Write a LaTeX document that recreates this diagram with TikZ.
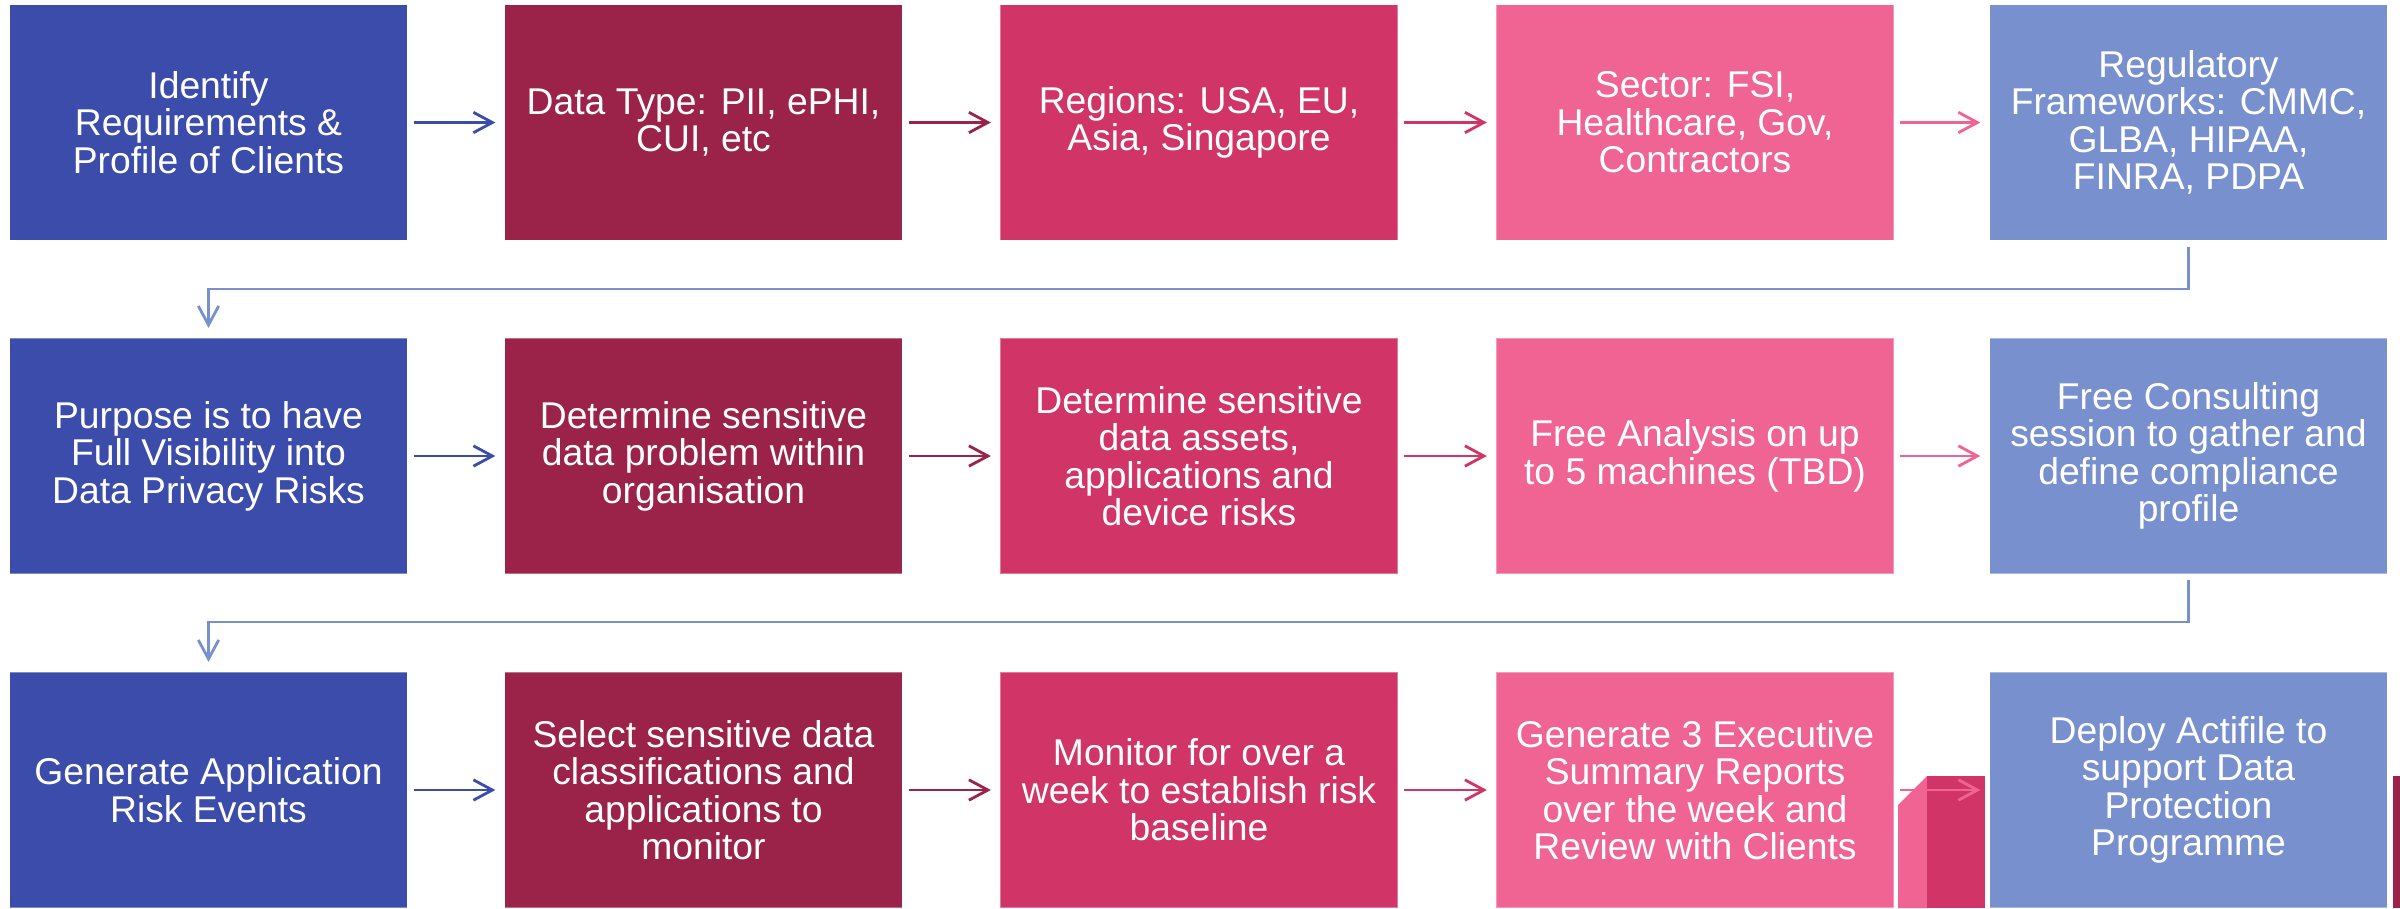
\documentclass[tikz,border=0pt]{standalone}
\usepackage{fontspec}
\setmainfont{Liberation Sans}
\usetikzlibrary{arrows.meta}
\definecolor{cA}{HTML}{3B4CAB}
\definecolor{cB}{HTML}{9B2349}
\definecolor{cC}{HTML}{D13466}
\definecolor{cD}{HTML}{F06494}
\definecolor{cE}{HTML}{7891CE}
\tikzset{
  stepbox/.style={minimum width=3.97cm, minimum height=2.35cm, inner sep=0pt,
    text=white, align=center, draw=white, draw opacity=0.35, line width=0.3pt,
    font=\fontsize{10.6pt}{10.65pt}\selectfont},
  arr/.style={line width=0.8pt, -{Straight Barb[length=5.4pt,width=5.8pt,line width=0.8pt]}},
  harr/.style={arr, shorten <=0.06cm, shorten >=0.09cm},
}
\begin{document}
\begin{tikzpicture}[x=0.01cm,y=-0.01cm]
\useasboundingbox (0,0) rectangle (2400,908);
% row 1
\node[stepbox, fill=cA] (a1) at (208.5,122.5) {Identify\\Requirements \&\\Profile of Clients};
\node[stepbox, fill=cB] (a2) at (703.5,122.5) {Data Type: PII, ePHI,\\CUI, etc};
\node[stepbox, fill=cC] (a3) at (1199,122.5) {Regions: USA, EU,\\Asia, Singapore};
\node[stepbox, fill=cD] (a4) at (1695,122.5) {Sector: FSI,\\Healthcare, Gov,\\Contractors};
\node[stepbox, fill=cE] (a5) at (2188.5,122.5) {Regulatory\\Frameworks: CMMC,\\GLBA, HIPAA,\\FINRA, PDPA};
% row 2
\node[stepbox, fill=cA] (b1) at (208.5,456) {Purpose is to have\\Full Visibility into\\Data Privacy Risks};
\node[stepbox, fill=cB] (b2) at (703.5,456) {Determine sensitive\\data problem within\\organisation};
\node[stepbox, fill=cC] (b3) at (1199,456) {Determine sensitive\\data assets,\\applications and\\device risks};
\node[stepbox, fill=cD] (b4) at (1695,456) {Free Analysis on up\\to 5 machines (TBD)};
\node[stepbox, fill=cE] (b5) at (2188.5,456) {Free Consulting\\session to gather and\\define compliance\\profile};
% row 3
\node[stepbox, fill=cA] (c1) at (208.5,790) {Generate Application\\Risk Events};
\node[stepbox, fill=cB] (c2) at (703.5,790) {Select sensitive data\\classifications and\\applications to\\monitor};
\node[stepbox, fill=cC] (c3) at (1199,790) {Monitor for over a\\week to establish risk\\baseline};
\node[stepbox, fill=cD] (c4) at (1695,790) {Generate 3 Executive\\Summary Reports\\over the week and\\Review with Clients};
\node[stepbox, fill=cE] (c5) at (2188.5,790) {Deploy Actifile to\\support Data\\Protection\\Programme};
% partial shapes
\fill[cD] (1898,805) -- (1927,776) -- (1927,908) -- (1898,908) -- cycle;
\fill[cC] (1927,776) rectangle (1985,908);
\fill[cB] (2393,776) rectangle (2400,908);
% horizontal arrows
\foreach \r in {a,b,c}{
  \draw[harr, cA] (\r1.east) -- (\r2.west);
  \draw[harr, cB] (\r2.east) -- (\r3.west);
  \draw[harr, cC] (\r3.east) -- (\r4.west);
  \draw[harr, cD] (\r4.east) -- (\r5.west);
}
% row connectors
\coordinate (t1) at (208.5,289);
\coordinate (t2) at (208.5,622);
\draw[arr, cE, shorten <=0.06cm, shorten >=0.1cm] (a5.south) |- (t1) -- (b1.north);
\draw[arr, cE, shorten <=0.06cm, shorten >=0.1cm] (b5.south) |- (t2) -- (c1.north);
\end{tikzpicture}
\end{document}
